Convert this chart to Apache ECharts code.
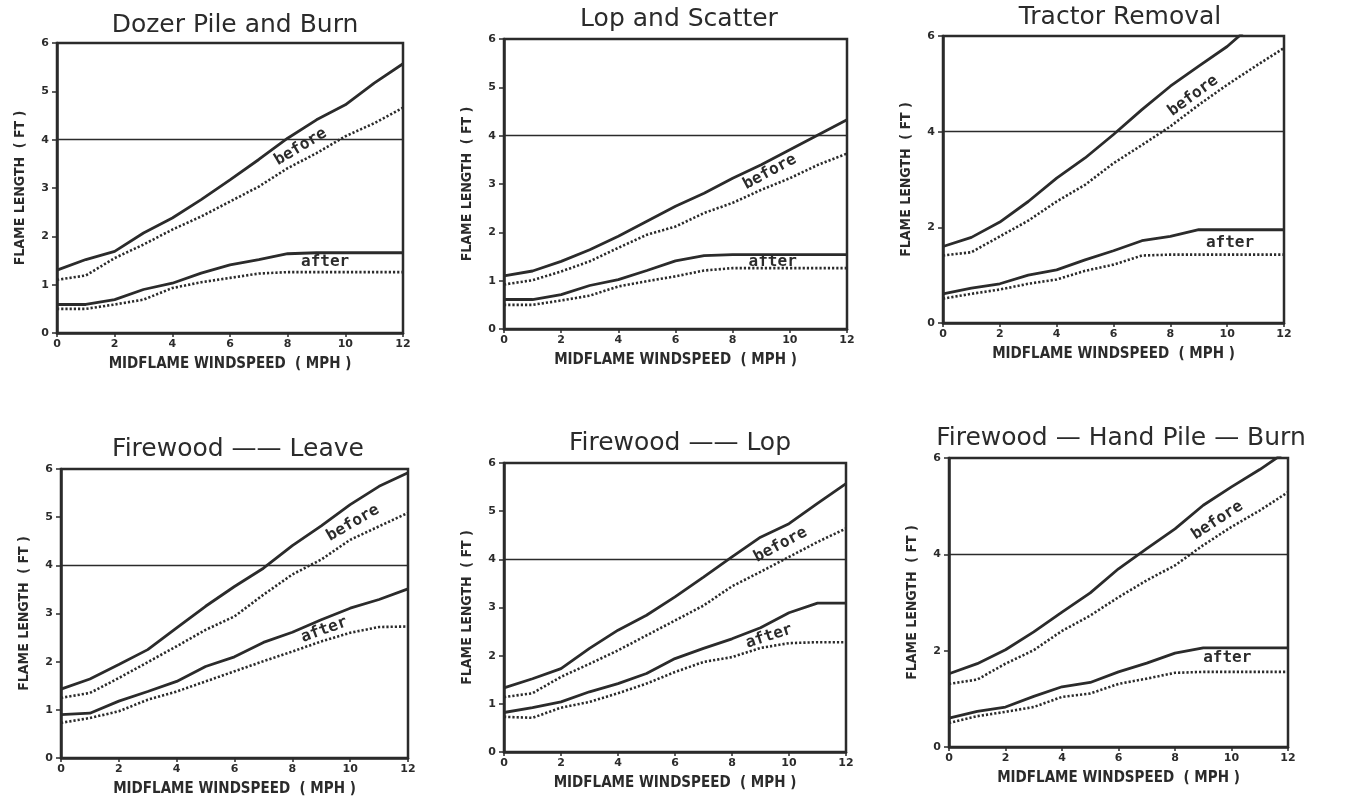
<!DOCTYPE html>
<html>
<head>
<meta charset="utf-8">
<script src="https://cdn.jsdelivr.net/npm/echarts@6/dist/echarts.min.js"></script>
<style>
  html, body { margin: 0; padding: 0; background: #fff; }
  #chart { width: 1367px; height: 803px; }
</style>
</head>
<body>
<div id="chart"></div>
<script>
// windspeed (mph) shared by all panels
const windspeed = [0, 1, 2, 3, 4, 5, 6, 7, 8, 9, 10, 11, 12]
const xTicks = [0, 2, 4, 6, 8, 10, 12]
const refLine = 4

const titles = ['Dozer Pile and Burn', 'Lop and Scatter', 'Tractor Removal',
  'Firewood —— Leave', 'Firewood —— Lop', 'Firewood — Hand Pile — Burn']
const yIntervals = [1, 1, 2, 1, 1, 2]

// solid = upper curve, dotted = lower curve of each pair
const dozerBeforeSolid = [1.3, 1.52, 1.69, 2.07, 2.38, 2.76, 3.17, 3.59, 4.03, 4.41, 4.72, 5.17, 5.57]
const dozerBeforeDot = [1.1, 1.19, 1.55, 1.83, 2.14, 2.41, 2.72, 3.03, 3.41, 3.72, 4.07, 4.34, 4.66]
const dozerAfterSolid = [0.59, 0.59, 0.69, 0.9, 1.03, 1.24, 1.41, 1.52, 1.64, 1.66, 1.66, 1.66, 1.66]
const dozerAfterDot = [0.5, 0.5, 0.59, 0.69, 0.93, 1.05, 1.14, 1.23, 1.26, 1.26, 1.26, 1.26, 1.26]

const lopBeforeSolid = [1.1, 1.2, 1.4, 1.64, 1.92, 2.23, 2.54, 2.81, 3.12, 3.4, 3.71, 4.02, 4.33]
const lopBeforeDot = [0.92, 1.01, 1.19, 1.4, 1.68, 1.95, 2.12, 2.4, 2.61, 2.88, 3.12, 3.4, 3.63]
const lopAfterSolid = [0.61, 0.61, 0.71, 0.9, 1.02, 1.21, 1.41, 1.52, 1.54, 1.54, 1.54, 1.54, 1.54]
const lopAfterDot = [0.5, 0.5, 0.59, 0.69, 0.88, 0.99, 1.09, 1.21, 1.26, 1.26, 1.26, 1.26, 1.26]

const tractorBeforeSolid = [1.6, 1.79, 2.11, 2.54, 3.03, 3.45, 3.94, 4.46, 4.95, 5.37, 5.78, 6.3, 6.75]
const tractorBeforeDot = [1.41, 1.48, 1.81, 2.14, 2.54, 2.89, 3.34, 3.72, 4.11, 4.56, 4.98, 5.37, 5.75]
const tractorAfterSolid = [0.61, 0.73, 0.82, 1.0, 1.11, 1.32, 1.51, 1.72, 1.81, 1.95, 1.95, 1.95, 1.95]
const tractorAfterDot = [0.51, 0.61, 0.7, 0.82, 0.91, 1.09, 1.22, 1.41, 1.43, 1.43, 1.43, 1.43, 1.43]

const leaveBeforeSolid = [1.43, 1.64, 1.94, 2.25, 2.7, 3.15, 3.56, 3.94, 4.41, 4.82, 5.26, 5.64, 5.92]
const leaveBeforeDot = [1.25, 1.35, 1.66, 1.99, 2.32, 2.66, 2.94, 3.39, 3.81, 4.12, 4.53, 4.81, 5.09]
const leaveAfterSolid = [0.9, 0.93, 1.18, 1.38, 1.59, 1.9, 2.1, 2.4, 2.61, 2.87, 3.11, 3.29, 3.51]
const leaveAfterDot = [0.73, 0.83, 0.97, 1.21, 1.38, 1.59, 1.8, 2.01, 2.21, 2.42, 2.6, 2.72, 2.73]

const fwLopBeforeSolid = [1.33, 1.52, 1.73, 2.15, 2.53, 2.84, 3.22, 3.63, 4.05, 4.46, 4.74, 5.16, 5.57]
const fwLopBeforeDot = [1.14, 1.22, 1.56, 1.83, 2.11, 2.42, 2.73, 3.04, 3.44, 3.74, 4.05, 4.36, 4.64]
const fwLopAfterSolid = [0.82, 0.92, 1.04, 1.25, 1.42, 1.63, 1.94, 2.15, 2.35, 2.58, 2.89, 3.09, 3.09]
const fwLopAfterDot = [0.73, 0.71, 0.92, 1.04, 1.22, 1.42, 1.66, 1.87, 1.97, 2.16, 2.26, 2.28, 2.28]

const handBeforeSolid = [1.52, 1.73, 2.02, 2.39, 2.8, 3.2, 3.7, 4.12, 4.53, 5.02, 5.4, 5.76, 6.16]
const handBeforeDot = [1.31, 1.4, 1.73, 2.01, 2.41, 2.73, 3.11, 3.46, 3.77, 4.19, 4.57, 4.91, 5.29]
const handAfterSolid = [0.6, 0.74, 0.83, 1.05, 1.25, 1.34, 1.56, 1.74, 1.95, 2.06, 2.06, 2.06, 2.06]
const handAfterDot = [0.5, 0.64, 0.73, 0.83, 1.04, 1.11, 1.31, 1.42, 1.54, 1.56, 1.56, 1.56, 1.56]

const panelCurves = [
  [dozerBeforeSolid, dozerBeforeDot, dozerAfterSolid, dozerAfterDot],
  [lopBeforeSolid, lopBeforeDot, lopAfterSolid, lopAfterDot],
  [tractorBeforeSolid, tractorBeforeDot, tractorAfterSolid, tractorAfterDot],
  [leaveBeforeSolid, leaveBeforeDot, leaveAfterSolid, leaveAfterDot],
  [fwLopBeforeSolid, fwLopBeforeDot, fwLopAfterSolid, fwLopAfterDot],
  [handBeforeSolid, handBeforeDot, handAfterSolid, handAfterDot]
]

// curve labels: [x, y, angle] in data units
const beforeLabels = [[8.45, 3.85, 31], [9.3, 3.25, 28], [8.8, 4.75, 36], [10.1, 4.88, 30], [9.7, 4.3, 28], [9.5, 4.7, 33]]
const afterLabels = [[9.3, 1.47, 0], [9.4, 1.39, 0], [10.1, 1.67, 0], [9.1, 2.66, 20], [9.3, 2.4, 18], [9.85, 1.85, 0]]

const ink = '#2b2b2b'
const narrow = "'DejaVu Sans Condensed', 'Liberation Sans', Arial, sans-serif"
const grids = [
  { left: 57, top: 43, width: 346, height: 290 },
  { left: 504, top: 39, width: 343, height: 290 },
  { left: 943, top: 36, width: 341, height: 287 },
  { left: 61, top: 469, width: 347, height: 289 },
  { left: 504, top: 463, width: 342, height: 289 },
  { left: 949, top: 458, width: 339, height: 289 }
]
const titlePos = [[230, 8], [674, 2], [1115, 0], [233, 432], [675, 426], [1116, 421]]

let myChart = echarts.init(document.getElementById('chart'))

function pairs (ys) {
  return windspeed.map((x, i) => [x, ys[i]])
}

let option = {
  backgroundColor: '#fff',
  animation: false,
  title: [],
  grid: [],
  xAxis: [],
  yAxis: [],
  series: []
}

grids.forEach((g, i) => {
  option.grid.push(Object.assign({
    show: true,
    borderColor: ink,
    borderWidth: 2.5,
    backgroundColor: 'transparent'
  }, g))
  option.title.push({
    text: titles[i],
    left: titlePos[i][0],
    top: titlePos[i][1],
    textAlign: 'center',
    textStyle: { fontFamily: 'DejaVu Sans', fontSize: 25, fontWeight: 'normal', color: ink }
  })
  option.xAxis.push({
    type: 'value',
    gridIndex: i,
    min: xTicks[0],
    max: xTicks[xTicks.length - 1],
    interval: 2,
    name: 'MIDFLAME WINDSPEED  ( MPH )',
    nameLocation: 'middle',
    nameGap: 24,
    nameTextStyle: { fontFamily: narrow, fontWeight: 'bold', fontSize: 15, color: ink },
    axisLine: { lineStyle: { color: ink, width: 2.5 } },
    axisTick: { show: true, length: 4, lineStyle: { color: ink, width: 1.5 } },
    axisLabel: { fontFamily: 'DejaVu Sans', fontWeight: 'bold', fontSize: 11, color: ink, margin: 6 },
    splitLine: { show: false }
  })
  option.yAxis.push({
    type: 'value',
    gridIndex: i,
    min: 0,
    max: 6,
    interval: yIntervals[i],
    name: 'FLAME LENGTH  ( FT )',
    nameLocation: 'middle',
    nameGap: 30,
    nameTextStyle: { fontFamily: narrow, fontWeight: 'bold', fontSize: 14, color: ink },
    axisLine: { lineStyle: { color: ink, width: 2.5 } },
    axisTick: { show: true, length: 5, lineStyle: { color: ink, width: 1.5 } },
    axisLabel: { fontFamily: 'DejaVu Sans', fontWeight: 'bold', fontSize: 11, color: ink, margin: 8 },
    splitLine: { show: false }
  })
  panelCurves[i].forEach((ys, k) => {
    let dotted = k % 2 === 1
    let s = {
      type: 'line',
      xAxisIndex: i,
      yAxisIndex: i,
      data: pairs(ys),
      symbol: 'none',
      clip: true,
      lineStyle: {
        color: ink,
        width: dotted ? 2.6 : 2.8,
        type: dotted ? [2.2, 2] : 'solid'
      }
    }
    if (k === 0) {
      s.markLine = {
        silent: true,
        symbol: ['none', 'none'],
        label: { show: false },
        lineStyle: { color: ink, width: 1.3, type: 'solid' },
        data: [{ yAxis: refLine }]
      }
    }
    option.series.push(s)
  })
})

myChart.setOption(option)

// place the rotated "before" / "after" labels from data coordinates
let graphics = []
function addLabel (i, spec, text) {
  let p = myChart.convertToPixel({ gridIndex: i }, [spec[0], spec[1]])
  graphics.push({
    type: 'text',
    x: p[0],
    y: p[1],
    rotation: spec[2] * Math.PI / 180,
    style: {
      text: text,
      fill: ink,
      font: 'bold 16px "DejaVu Sans Mono"',
      align: 'center',
      verticalAlign: 'middle'
    }
  })
}
beforeLabels.forEach((b, i) => addLabel(i, b, 'before'))
afterLabels.forEach((a, i) => addLabel(i, a, 'after'))
myChart.setOption({ graphic: graphics })
</script>
</body>
</html>
